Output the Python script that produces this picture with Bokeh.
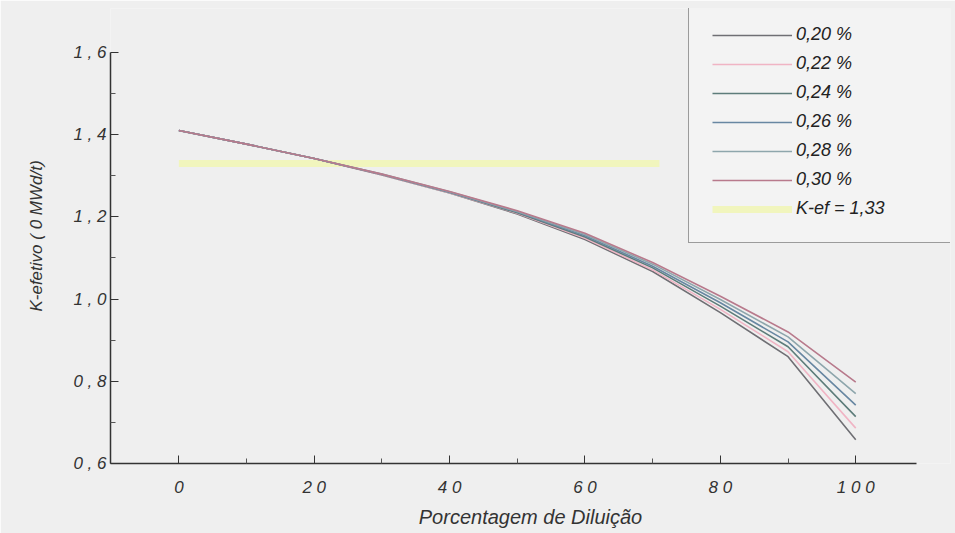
from bokeh.plotting import figure
from bokeh.models import Legend, LegendItem, FixedTicker, Range1d
from bokeh.embed import file_html
from bokeh.resources import INLINE

# ---- data ----
diluicao = [0, 10, 20, 30, 40, 50, 60, 70, 80, 90, 100]
k_020 = [1.410, 1.377, 1.342, 1.302, 1.258, 1.207, 1.145, 1.067, 0.967, 0.860, 0.658]
k_022 = [1.410, 1.377, 1.342, 1.302, 1.259, 1.209, 1.148, 1.071, 0.975, 0.872, 0.686]
k_024 = [1.410, 1.377, 1.342, 1.303, 1.260, 1.210, 1.151, 1.076, 0.983, 0.884, 0.714]
k_026 = [1.410, 1.377, 1.342, 1.303, 1.260, 1.212, 1.154, 1.080, 0.991, 0.896, 0.742]
k_028 = [1.410, 1.377, 1.342, 1.304, 1.261, 1.213, 1.157, 1.085, 0.999, 0.908, 0.770]
k_030 = [1.410, 1.377, 1.342, 1.304, 1.262, 1.215, 1.160, 1.089, 1.007, 0.920, 0.798]
kef_x = [0, 71]
kef_y = [1.33, 1.33]

series_labels = ["0,20 %", "0,22 %", "0,24 %", "0,26 %", "0,28 %", "0,30 %"]
kef_label = "K-ef = 1,33"

x_ticks = [0, 20, 40, 60, 80, 100]
x_tick_labels = ["0", "2 0", "4 0", "6 0", "8 0", "1 0 0"]
y_ticks = [0.6, 0.8, 1.0, 1.2, 1.4, 1.6]
y_tick_labels = ["0 , 6", "0 , 8", "1 , 0", "1 , 2", "1 , 4", "1 , 6"]

colors = ["#6f6f74", "#f0b4c4", "#5d7c7a", "#6887a2", "#8ea6ac", "#b87a8c"]
bg = "#efefef"

# axis extents (data) and the extra room the frame keeps for the legend
x_axis_bounds = (-10.1, 109)
y_axis_bounds = (0.6, 1.6)

p = figure(width=955, height=533, x_range=Range1d(-10.1, 114.0), y_range=Range1d(0.6, 1.707),
           output_backend="svg", toolbar_location=None,
           min_border_left=110, min_border_right=5, min_border_top=8, min_border_bottom=70)
p.background_fill_color = bg
p.border_fill_color = bg
p.outline_line_color = None
p.xgrid.visible = False
p.ygrid.visible = False

items = []
kef = p.line(kef_x, kef_y, color="#f1f5bd", line_width=7)
all_series = [k_020, k_022, k_024, k_026, k_028, k_030]
renderers = []
for ys, c in zip(all_series, colors):
    renderers.append(p.line(diluicao, ys, color=c, line_width=1.6))
for r, lab in zip(renderers, series_labels):
    items.append(LegendItem(label=lab, renderers=[r]))
items.append(LegendItem(label=kef_label, renderers=[kef]))

legend = Legend(items=items, location=(578, 220),
                glyph_width=80, glyph_height=20, spacing=8, padding=23,
                label_standoff=4, label_width=132, label_height=20,
                label_text_font="Liberation Sans", label_text_font_style="italic",
                label_text_font_size="18px", label_text_color="#222222",
                border_line_color="#444444", border_line_width=1.5,
                background_fill_color="#f3f3f3", background_fill_alpha=1.0)
p.add_layout(legend, "center")

for ax in (p.xaxis[0], p.yaxis[0]):
    ax.axis_line_color = "#333333"
    ax.axis_line_width = 1.5
    ax.major_tick_line_color = "#333333"
    ax.minor_tick_line_color = "#555555"
    ax.major_tick_in = 8
    ax.major_tick_out = 0
    ax.minor_tick_in = 5
    ax.minor_tick_out = 0
    ax.major_label_text_font = "Liberation Sans"
    ax.major_label_text_font_style = "italic"
    ax.major_label_text_font_size = "17px"
    ax.major_label_text_color = "#333333"
    ax.axis_label_text_font = "Liberation Sans"
    ax.axis_label_text_font_style = "italic"
    ax.axis_label_text_color = "#333333"

p.xaxis[0].bounds = x_axis_bounds
p.xaxis[0].ticker = FixedTicker(ticks=x_ticks, minor_ticks=[10, 30, 50, 70, 90])
p.xaxis[0].major_label_overrides = {t: l for t, l in zip(x_ticks, x_tick_labels)}
p.xaxis[0].major_label_standoff = 14
p.xaxis[0].axis_label = "Porcentagem de Diluição"
p.xaxis[0].axis_label_text_font_size = "20px"
p.xaxis[0].axis_label_standoff = 6

p.yaxis[0].bounds = y_axis_bounds
p.yaxis[0].ticker = FixedTicker(ticks=y_ticks, minor_ticks=[0.7, 0.9, 1.1, 1.3, 1.5])
p.yaxis[0].major_label_overrides = {t: l for t, l in zip(y_ticks, y_tick_labels)}
p.yaxis[0].major_label_standoff = 4
p.yaxis[0].axis_label = "K-efetivo ( 0 MWd/t)"
p.yaxis[0].axis_label_text_font_size = "17px"
p.yaxis[0].axis_label_standoff = 24

open("out.html", "w").write(file_html(p, INLINE))
